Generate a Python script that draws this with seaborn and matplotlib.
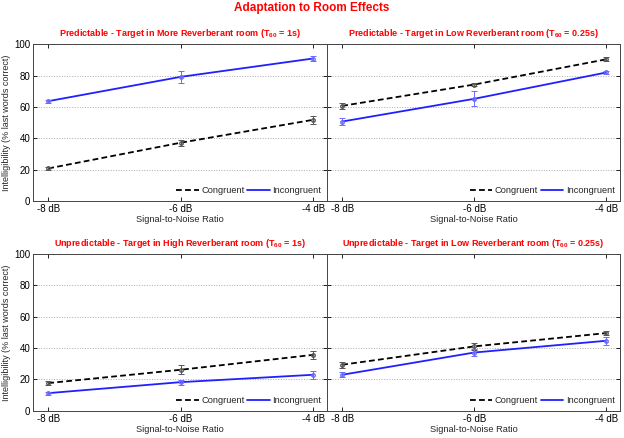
import numpy as np
import pandas as pd
import matplotlib
matplotlib.use("Agg")
import matplotlib.pyplot as plt
import seaborn as sns

# SNR levels (x axis)
snr = [-8, -6, -4]
snr_labels = ["-8 dB", "-6 dB", "-4 dB"]

panel_titles = [
    r"Predictable - Target in More Reverberant room (T$_{\mathbf{60}}$ = 1s)",
    r"Predictable - Target in Low Reverberant room (T$_{\mathbf{60}}$ = 0.25s)",
    r"Unpredictable - Target in High Reverberant room (T$_{\mathbf{60}}$ = 1s)",
    r"Unpredictable - Target in Low Reverberant room (T$_{\mathbf{60}}$ = 0.25s)",
]

# mean intelligibility (%) per panel
congruent_mean = [
    [20.8, 37.2, 51.8],
    [60.7, 74.3, 90.4],
    [17.7, 26.2, 35.7],
    [29.4, 41.1, 49.6],
]
congruent_err = [
    [1.2, 2.0, 2.5],
    [1.8, 1.0, 1.3],
    [1.5, 3.0, 2.5],
    [1.8, 2.0, 1.5],
]
incongruent_mean = [
    [63.7, 79.2, 90.9],
    [50.7, 65.2, 82.0],
    [11.3, 18.3, 23.0],
    [23.0, 37.2, 44.7],
]
incongruent_err = [
    [1.0, 3.7, 1.3],
    [2.0, 4.8, 1.2],
    [1.0, 1.5, 2.5],
    [1.5, 2.0, 2.5],
]

sns.set_theme(style="white")
plt.rcParams["font.family"] = ["Liberation Sans", "DejaVu Sans"]
plt.rcParams["mathtext.fontset"] = "custom"
plt.rcParams["mathtext.rm"] = "Liberation Sans"
plt.rcParams["mathtext.bf"] = "Liberation Sans:bold"

fig = plt.figure(figsize=(6.24, 4.38), dpi=100)

positions = [
    [0.053, 0.541, 0.471, 0.358],
    [0.524, 0.541, 0.470, 0.358],
    [0.053, 0.062, 0.471, 0.358],
    [0.524, 0.062, 0.470, 0.358],
]

blue = "#2020ff"
dash = (3.2, 1.8)
for i in range(4):
    ax = fig.add_axes(positions[i])
    df = pd.DataFrame({
        "snr": snr * 2,
        "score": congruent_mean[i] + incongruent_mean[i],
        "cond": ["Congruent"] * 3 + ["Incongruent"] * 3,
    })
    sns.lineplot(data=df, x="snr", y="score", hue="cond", style="cond",
                 palette={"Congruent": "black", "Incongruent": blue},
                 dashes={"Congruent": dash, "Incongruent": ""},
                 linewidth=1.3, ax=ax, legend=False)
    ax.errorbar(snr, congruent_mean[i], yerr=congruent_err[i], fmt="o", ms=2.5,
                mfc="none", mec="#555555", ecolor="#555555", elinewidth=0.7,
                capsize=2, capthick=0.7, zorder=3)
    ax.errorbar(snr, incongruent_mean[i], yerr=incongruent_err[i], fmt="o", ms=2.5,
                mfc="none", mec="#6a6aff", ecolor="#6a6aff", elinewidth=0.7,
                capsize=2, capthick=0.7, zorder=3)

    ax.set_xlim(-8.23, -3.79)
    ax.set_ylim(0, 100)
    ax.set_xticks(snr)
    ax.set_xticklabels(snr_labels)
    ax.set_yticks([0, 20, 40, 60, 80, 100])
    if i % 2 == 0:
        ax.set_ylabel("Intelligibility (% last words correct)", fontsize=6.5, labelpad=2)
    else:
        ax.set_yticklabels([])
        ax.set_ylabel("")
    ax.set_xlabel("Signal-to-Noise Ratio", fontsize=6.7, labelpad=1)
    ax.tick_params(direction="in", length=3, width=0.6, labelsize=7, pad=2,
                   top=True, right=True, bottom=True, left=True, colors="black")
    ax.yaxis.grid(True, linestyle=":", color="#aaaaaa", linewidth=0.7)
    for s in ax.spines.values():
        s.set_color("#444444")
        s.set_linewidth(0.7)
    ax.set_title(panel_titles[i], color="red", fontsize=6.5, fontweight="bold", pad=6)

    handles = [
        plt.Line2D([], [], color="black", linestyle=(0, dash), linewidth=1.3),
        plt.Line2D([], [], color=blue, linewidth=1.3),
    ]
    ax.legend(handles, ["Congruent", "Incongruent"], loc="lower right", ncol=2,
              frameon=False, fontsize=6.7, handlelength=2.4, handletextpad=0.3,
              columnspacing=0.3, borderaxespad=0.2)

fig.suptitle("Adaptation to Room Effects", color="red", fontsize=8.5,
             fontweight="bold", y=0.995)

fig.savefig("out.png", dpi=100)
